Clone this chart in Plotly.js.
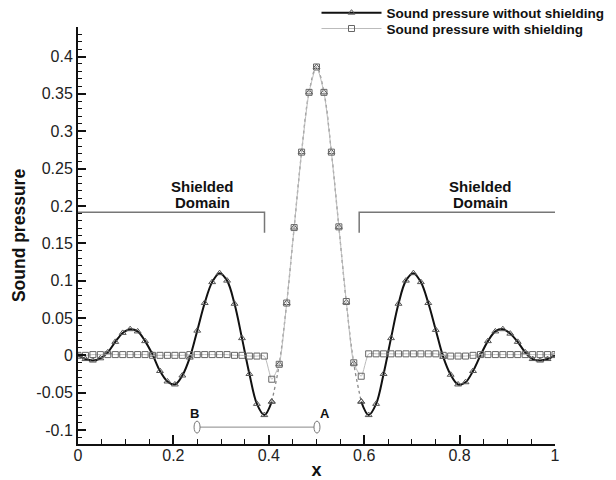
<!DOCTYPE html>
<html>
<head>
<meta charset="utf-8">
<script src="https://cdn.plot.ly/plotly-3.0.1.min.js"></script>
<style>html,body{margin:0;padding:0;background:#fff;}#chart{width:616px;height:480px;}</style>
</head>
<body>
<div id="chart"></div>
<script>
// x positions of the sampled points (grid of the computation, 1/64 spacing)
const xValues = [0, 0.015625, 0.03125, 0.046875, 0.0625, 0.078125, 0.09375, 0.109375, 0.125, 0.140625,
  0.15625, 0.171875, 0.1875, 0.203125, 0.21875, 0.234375, 0.25, 0.265625, 0.28125, 0.296875,
  0.3125, 0.328125, 0.34375, 0.359375, 0.375, 0.390625, 0.40625, 0.421875, 0.4375, 0.453125,
  0.46875, 0.484375, 0.5, 0.515625, 0.53125, 0.546875, 0.5625, 0.578125, 0.59375, 0.609375,
  0.625, 0.640625, 0.65625, 0.671875, 0.6875, 0.703125, 0.71875, 0.734375, 0.75, 0.765625,
  0.78125, 0.796875, 0.8125, 0.828125, 0.84375, 0.859375, 0.875, 0.890625, 0.90625, 0.921875,
  0.9375, 0.953125, 0.96875, 0.984375, 1];

// Sound pressure without shielding
const pressureWithout = [0.000, -0.005, -0.007, -0.004, 0.004, 0.018, 0.030, 0.035, 0.032, 0.019,
  0.001, -0.021, -0.035, -0.039, -0.027, -0.003, 0.033, 0.070, 0.098, 0.110,
  0.100, 0.069, 0.023, -0.025, -0.065, -0.080, -0.062, -0.012, 0.070, 0.171,
  0.272, 0.352, 0.386, 0.352, 0.272, 0.172, 0.071, -0.011, -0.062, -0.080,
  -0.065, -0.025, 0.023, 0.069, 0.100, 0.110, 0.098, 0.070, 0.034, -0.002,
  -0.026, -0.039, -0.036, -0.021, 0.000, 0.019, 0.032, 0.035, 0.029, 0.018,
  0.004, -0.005, -0.007, -0.005, 0.000];

// Sound pressure with shielding
const pressureWith = [0.000, 0.000, 0.001, 0.001, 0.001, 0.001, 0.001, 0.001, 0.001, 0.001,
  0.000, 0.000, 0.000, 0.000, 0.000, 0.001, 0.001, 0.001, 0.001, 0.001,
  0.001, 0.000, 0.000, -0.001, -0.001, -0.001, -0.032, -0.012, 0.070, 0.171,
  0.272, 0.352, 0.386, 0.352, 0.272, 0.172, 0.072, -0.010, -0.028, 0.002,
  0.002, 0.002, 0.002, 0.002, 0.002, 0.002, 0.002, 0.002, 0.002, 0.000,
  -0.001, -0.001, -0.001, 0.000, 0.001, 0.001, 0.001, 0.001, 0.001, 0.001,
  0.001, 0.001, 0.001, 0.001, 0.001];

const seriesNames = ['Sound pressure without shielding', 'Sound pressure with shielding'];
const xTickVals = [0, 0.2, 0.4, 0.6, 0.8, 1];
const xTickText = ['0', '0.2', '0.4', '0.6', '0.8', '1'];
const yTickVals = [-0.1, -0.05, 0, 0.05, 0.1, 0.15, 0.2, 0.25, 0.3, 0.35, 0.4];
const yTickText = ['-0.1', '-0.05', '0', '0.05', '0.1', '0.15', '0.2', '0.25', '0.3', '0.35', '0.4'];

// index range where the unshielded curve is drawn as a dotted line (central, unshielded zone)
const centerStart = 26, centerEnd = 38;

const FONT = 'Liberation Sans, Arial, Helvetica, sans-serif';
const triMarker = {symbol: 'triangle-up-open', size: 6, color: '#555', line: {width: 1, color: '#555'}};
const sqMarker = {symbol: 'square-open', size: 6, color: '#666', line: {width: 1, color: '#666'}};

const traces = [
  {
    x: xValues.slice(0, centerStart + 1), y: pressureWithout.slice(0, centerStart + 1),
    type: 'scatter', mode: 'lines+markers', name: '<b>' + seriesNames[0] + '</b>', legend: 'legend',
    line: {color: '#111', width: 2, shape: 'spline', smoothing: 1}, marker: triMarker
  },
  {
    x: xValues.slice(centerStart, centerEnd + 1), y: pressureWithout.slice(centerStart, centerEnd + 1),
    type: 'scatter', mode: 'lines+markers', showlegend: false,
    line: {color: '#888', width: 1.3, dash: 'dot', shape: 'spline', smoothing: 1}, marker: triMarker
  },
  {
    x: xValues.slice(centerEnd), y: pressureWithout.slice(centerEnd),
    type: 'scatter', mode: 'lines+markers', showlegend: false,
    line: {color: '#111', width: 2, shape: 'spline', smoothing: 1}, marker: triMarker
  },
  {
    x: xValues, y: pressureWith,
    type: 'scatter', mode: 'lines+markers', name: '<b>' + seriesNames[1] + '</b>', legend: 'legend2',
    line: {color: '#bbb', width: 1, shape: 'spline', smoothing: 0.6}, marker: sqMarker
  }
];

const legendBase = {
  xanchor: 'left', yanchor: 'top', x: 0.500,
  bgcolor: 'rgba(255,255,255,0)', borderwidth: 0,
  font: {family: FONT, size: 13.5, color: '#111'}, itemwidth: 60
};

const bracketColor = '#777';
const layout = {
  width: 616, height: 480,
  margin: {l: 78, r: 61, t: 27, b: 36, autoexpand: false},
  paper_bgcolor: '#fff', plot_bgcolor: '#fff',
  font: {family: FONT, color: '#222', size: 16},
  showlegend: true,
  legend: Object.assign({}, legendBase, {y: 1.071}),
  legend2: Object.assign({}, legendBase, {y: 1.033}),
  xaxis: {
    range: [0, 1], tickmode: 'array', tickvals: xTickVals, ticktext: xTickText,
    ticks: 'inside', ticklen: 9, tickwidth: 2, tickcolor: '#111', ticklabelstandoff: -4,
    minor: {tickmode: 'linear', tick0: 0, dtick: 0.05, ticks: 'inside', ticklen: 5, tickwidth: 1, tickcolor: '#111'},
    showline: true, linewidth: 2, linecolor: '#111', showgrid: false, zeroline: false,
    tickfont: {family: FONT, size: 16, color: '#222'}, automargin: false,
    title: {text: '<b>x</b>', font: {family: FONT, size: 18, color: '#111'}, standoff: 0}
  },
  yaxis: {
    range: [-0.1187, 0.4395], tickmode: 'array', tickvals: yTickVals, ticktext: yTickText,
    ticks: 'inside', ticklen: 8, tickwidth: 2, tickcolor: '#111',
    minor: {tickmode: 'linear', tick0: 0, dtick: 0.01, ticks: 'inside', ticklen: 4, tickwidth: 1, tickcolor: '#111'},
    showline: true, linewidth: 2, linecolor: '#111', showgrid: false, zeroline: false,
    tickfont: {family: FONT, size: 16, color: '#222'}, automargin: false,
    title: {text: '<b>Sound pressure</b>', font: {family: FONT, size: 17.5, color: '#111'}, standoff: 6}
  },
  shapes: [
    {type: 'path', xref: 'x', yref: 'y', path: 'M 0 0.1915 L 0.391 0.1915 L 0.391 0.164',
      line: {color: bracketColor, width: 1.5}},
    {type: 'path', xref: 'x', yref: 'y', path: 'M 0.5895 0.164 L 0.5895 0.1915 L 1 0.1915',
      line: {color: bracketColor, width: 1.5}},
    {type: 'line', xref: 'x', yref: 'y', x0: 0.2496, x1: 0.501, y0: -0.0961, y1: -0.0961,
      line: {color: '#888', width: 1}},
    {type: 'circle', xref: 'x', yref: 'y', x0: 0.2433, x1: 0.2559, y0: -0.1041, y1: -0.0881,
      line: {color: '#777', width: 1}, fillcolor: 'rgba(255,255,255,1)'},
    {type: 'circle', xref: 'x', yref: 'y', x0: 0.4947, x1: 0.5073, y0: -0.1041, y1: -0.0881,
      line: {color: '#777', width: 1}, fillcolor: 'rgba(255,255,255,1)'}
  ],
  annotations: [
    {x: 0.262, y: 0.2255, xref: 'x', yref: 'y', text: '<b>Shielded</b>', showarrow: false, font: {family: FONT, size: 15, color: '#111'}},
    {x: 0.262, y: 0.2045, xref: 'x', yref: 'y', text: '<b>Domain</b>', showarrow: false, font: {family: FONT, size: 15, color: '#111'}},
    {x: 0.843, y: 0.2255, xref: 'x', yref: 'y', text: '<b>Shielded</b>', showarrow: false, font: {family: FONT, size: 15, color: '#111'}},
    {x: 0.843, y: 0.2045, xref: 'x', yref: 'y', text: '<b>Domain</b>', showarrow: false, font: {family: FONT, size: 15, color: '#111'}},
    {x: 0.244, y: -0.0783, xref: 'x', yref: 'y', text: '<b>B</b>', showarrow: false, font: {family: FONT, size: 13, color: '#111'}},
    {x: 0.517, y: -0.0783, xref: 'x', yref: 'y', text: '<b>A</b>', showarrow: false, font: {family: FONT, size: 13, color: '#111'}}
  ]
};

Plotly.newPlot('chart', traces, layout, {staticPlot: true, displayModeBar: false});
</script>
</body>
</html>
